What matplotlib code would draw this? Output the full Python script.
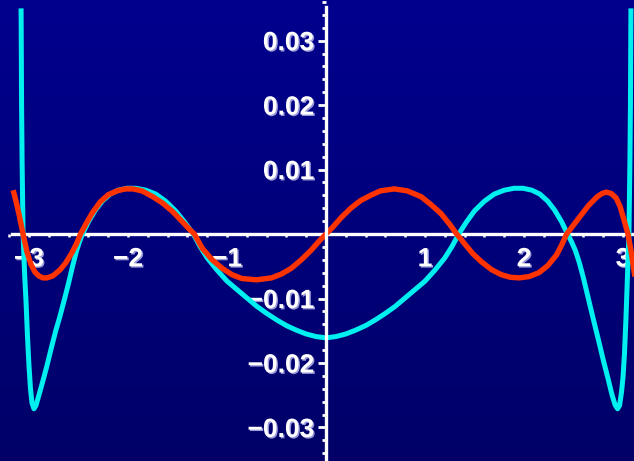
import numpy as np
import matplotlib.pyplot as plt
import matplotlib.patheffects as pe
from matplotlib.colors import LinearSegmentedColormap
from matplotlib.ticker import MultipleLocator, FixedLocator

# cyan curve
cyan_x = [-3.08, -3.075, -3.07, -3.06, -3.045, -3.03, -3.015, -3.00, -2.985, -2.97,
          -2.95, -2.93, -2.90, -2.86, -2.82, -2.78, -2.73, -2.69, -2.64, -2.60,
          -2.56, -2.52, -2.49, -2.46, -2.40, -2.33, -2.26, -2.18, -2.10, -2.01,
          -1.92, -1.82, -1.72, -1.62, -1.52, -1.43, -1.34, -1.27, -1.20, -1.10,
          -1.00, -0.90, -0.80, -0.70, -0.60, -0.50, -0.40, -0.30, -0.20, -0.10,
          0.00, 0.10, 0.20, 0.30, 0.40, 0.50, 0.60, 0.70, 0.80, 0.90,
          1.00, 1.10, 1.20, 1.27, 1.34, 1.42, 1.50, 1.60, 1.70, 1.80,
          1.90, 1.99, 2.08, 2.16, 2.24, 2.31, 2.38, 2.44, 2.48, 2.52,
          2.56, 2.60, 2.65, 2.70, 2.75, 2.80, 2.85, 2.89, 2.92, 2.945,
          2.965, 2.985, 3.00, 3.015, 3.03, 3.045, 3.06, 3.07, 3.075, 3.08]
cyan_y = [0.0350, 0.0200, 0.0115, 0.0000, -0.0060, -0.0105, -0.0160, -0.0205, -0.0240, -0.0262,
          -0.0271, -0.0266, -0.0250, -0.0228, -0.0205, -0.0180, -0.0150, -0.0129, -0.0100, -0.0076,
          -0.0050, -0.0026, -0.0012, 0.0000, 0.0019, 0.0037, 0.0051, 0.0062, 0.0068, 0.0071,
          0.0071, 0.0068, 0.0062, 0.0051, 0.0036, 0.0019, 0.0000, -0.0020, -0.0037, -0.0056,
          -0.0073, -0.0086, -0.0099, -0.0112, -0.0123, -0.0133, -0.0142, -0.0149, -0.0155, -0.0159,
          -0.0161, -0.0159, -0.0155, -0.0149, -0.0142, -0.0133, -0.0123, -0.0112, -0.0099, -0.0086,
          -0.0073, -0.0056, -0.0037, -0.0020, 0.0000, 0.0019, 0.0036, 0.0051, 0.0062, 0.0068,
          0.0071, 0.0071, 0.0068, 0.0062, 0.0051, 0.0037, 0.0019, 0.0000, -0.0012, -0.0026,
          -0.0045, -0.0068, -0.0100, -0.0132, -0.0163, -0.0195, -0.0225, -0.0250, -0.0265, -0.0271,
          -0.0266, -0.0245, -0.0222, -0.0185, -0.0130, -0.0065, 0.0000, 0.0115, 0.0200, 0.0350]

# red curve
red_x = [-3.16, -3.13, -3.10, -3.06, -3.02, -2.98, -2.94, -2.90, -2.86, -2.82,
         -2.76, -2.69, -2.63, -2.57, -2.52, -2.48, -2.42, -2.36, -2.28, -2.20,
         -2.11, -2.03, -1.95, -1.86, -1.75, -1.65, -1.55, -1.45, -1.39, -1.33,
         -1.25, -1.15, -1.05, -0.95, -0.85, -0.70, -0.55, -0.45, -0.35, -0.25,
         -0.15, -0.07, 0.00, 0.07, 0.15, 0.25, 0.35, 0.45, 0.55, 0.69,
         0.82, 0.96, 1.05, 1.16, 1.25, 1.32, 1.40, 1.48, 1.57, 1.67,
         1.77, 1.86, 1.95, 2.05, 2.15, 2.24, 2.33, 2.38, 2.43, 2.50,
         2.57, 2.65, 2.74, 2.79, 2.83, 2.88, 2.93, 2.97, 3.01, 3.05,
         3.08, 3.12]
red_y = [0.0068, 0.0050, 0.0030, 0.0000, -0.0028, -0.0047, -0.0059, -0.0065, -0.0068, -0.0068,
         -0.0065, -0.0056, -0.0045, -0.0030, -0.0015, 0.0000, 0.0017, 0.0033, 0.0050, 0.0061,
         0.0067, 0.0070, 0.0070, 0.0067, 0.0058, 0.0048, 0.0035, 0.0019, 0.0009, 0.0000,
         -0.0022, -0.0040, -0.0053, -0.0063, -0.0069, -0.0071, -0.0068, -0.0062, -0.0053, -0.0040,
         -0.0025, -0.0011, 0.0000, 0.0011, 0.0025, 0.0040, 0.0052, 0.0060, 0.0067, 0.0070,
         0.0067, 0.0058, 0.0047, 0.0032, 0.0015, 0.0000, -0.0015, -0.0030, -0.0043, -0.0055,
         -0.0063, -0.0067, -0.0068, -0.0066, -0.0060, -0.0049, -0.0032, -0.0017, 0.0000, 0.0014,
         0.0028, 0.0044, 0.0058, 0.0063, 0.0065, 0.0063, 0.0056, 0.0043, 0.0022, 0.0000,
         -0.0025, -0.0066]

x_ticks = [-3, -2, -1, 1, 2, 3]
x_labels = ['\u22123', '\u22122', '\u22121', '1', '2', '3']
y_ticks = [-0.03, -0.02, -0.01, 0.01, 0.02, 0.03]
y_labels = ['\u22120.03', '\u22120.02', '\u22120.01', '0.01', '0.02', '0.03']

fig = plt.figure(figsize=(6.34, 4.61), dpi=100)
ax = fig.add_axes([0, 0, 1, 1])
ax.set_xlim(-3.293, 3.111)
ax.set_ylim(-0.0352, 0.0363)

# fond en dégradé bleu nuit
grad = np.linspace(0, 1, 256).reshape(-1, 1)
bg = LinearSegmentedColormap.from_list('bg', ['#000068', '#00008e'])
ax.imshow(grad, cmap=bg, aspect='auto', extent=[0, 1, 1, 0],
          transform=ax.transAxes, zorder=0)

ax.plot(cyan_x, cyan_y, color='#00f0f0', lw=3.6, zorder=3,
        solid_capstyle='butt', solid_joinstyle='round')
ax.plot(red_x, red_y, color='#ff3300', lw=3.9, zorder=4,
        solid_capstyle='butt', solid_joinstyle='round')

# axes passing through the origin
for s in ['top', 'right']:
    ax.spines[s].set_visible(False)
ax.spines['left'].set_position('zero')
ax.spines['bottom'].set_position('zero')
ax.spines['left'].set_bounds(-0.0352, 0.0352)
ax.spines['bottom'].set_bounds(-3.17, 3.111)
shadow = [pe.SimplePatchShadow(offset=(0, -1.5), shadow_rgbFace='#9a9ad8', alpha=1), pe.Normal()]
for s in ['left', 'bottom']:
    ax.spines[s].set_color('white')
    ax.spines[s].set_linewidth(2.4)
    ax.spines[s].set_path_effects(shadow)
ax.spines['bottom'].set_zorder(2.5)
ax.spines['left'].set_zorder(5)

ax.xaxis.set_major_locator(FixedLocator(x_ticks))
ax.xaxis.set_minor_locator(MultipleLocator(0.2))
ax.yaxis.set_major_locator(FixedLocator(y_ticks))
ax.yaxis.set_minor_locator(MultipleLocator(0.002))
ax.set_xticklabels(x_labels)
ax.set_yticklabels(y_labels)

ax.tick_params(axis='x', which='both', direction='out', length=2.5, width=1.8,
               color='white', pad=7)
ax.tick_params(axis='y', which='major', direction='out', length=6, width=2,
               color='white', pad=2.5)
ax.tick_params(axis='y', which='minor', direction='out', length=3.2, width=2,
               color='white')

txt_shadow = [pe.withSimplePatchShadow(offset=(1, -1), shadow_rgbFace='#9a9ad8', alpha=1)]
for lab in ax.get_xticklabels() + ax.get_yticklabels():
    lab.set_color('white')
    lab.set_fontweight('bold')
    lab.set_fontfamily('Liberation Sans')
    lab.set_fontsize(19)
    lab.set_path_effects(txt_shadow)

fig.savefig('out.png', dpi=100)
